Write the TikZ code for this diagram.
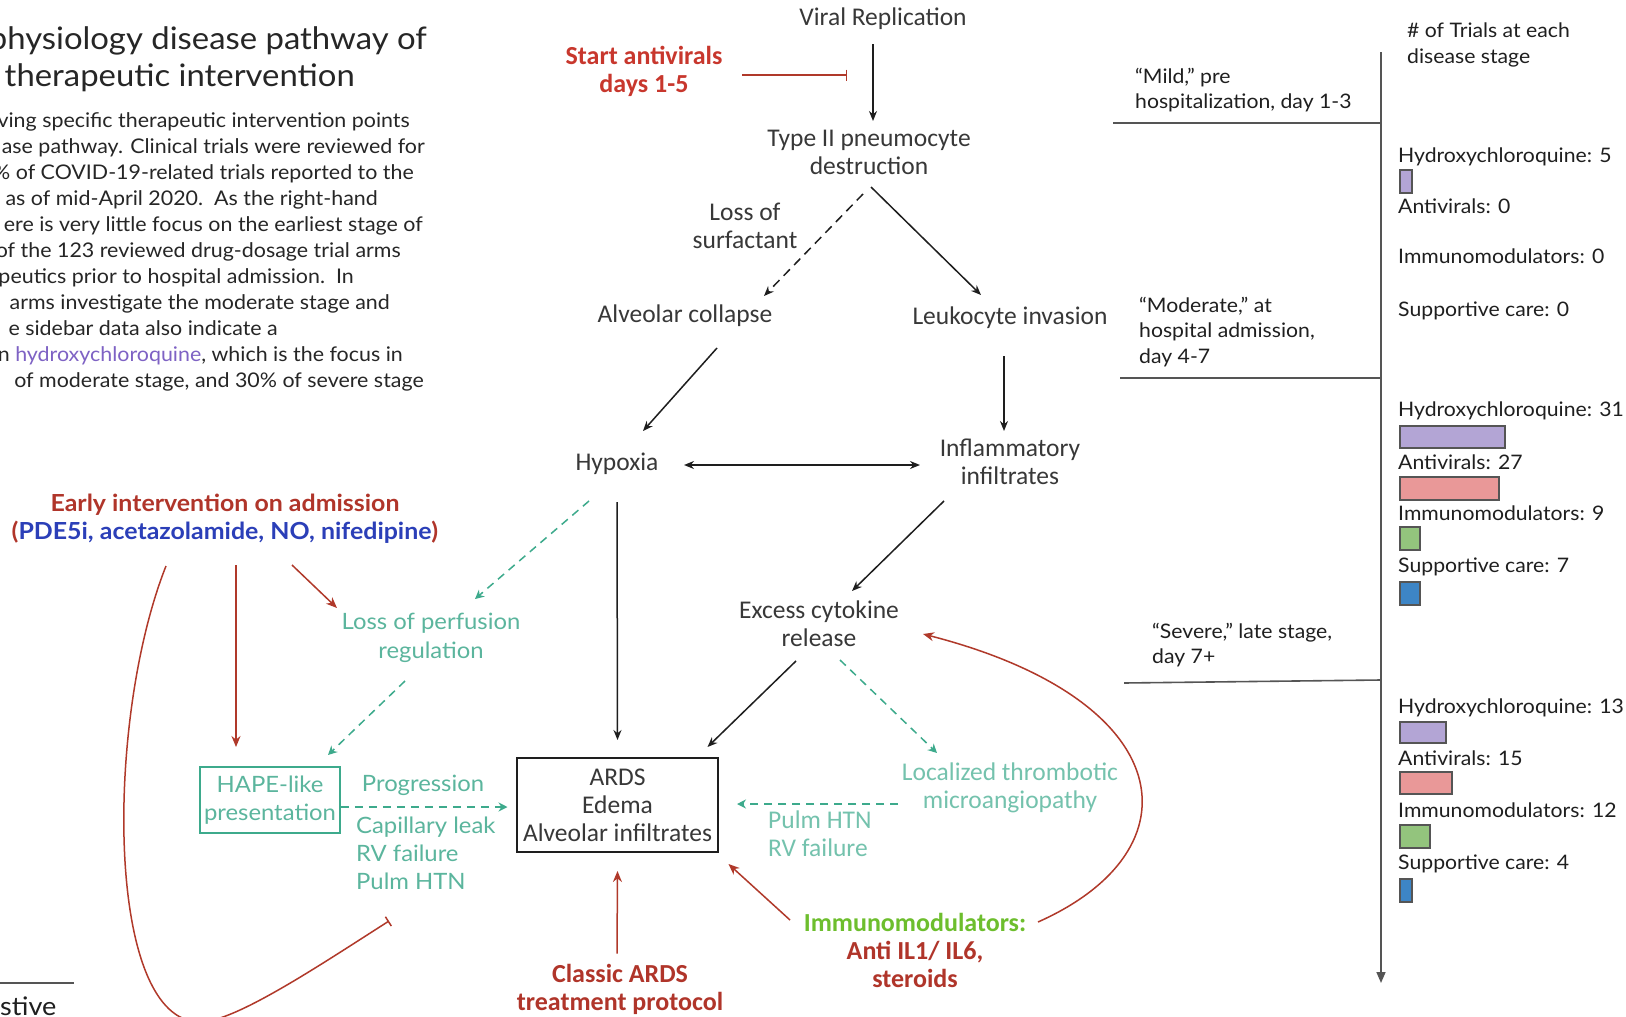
\documentclass[tikz,border=0pt]{standalone}
\usepackage{fontspec}
\setmainfont{Lato}[FakeStretch=1.06]
\newfontfamily\carl{Carlito}
\usetikzlibrary{arrows.meta,calc}
\definecolor{txtc}{HTML}{383838}
\definecolor{arrblk}{HTML}{1E1E1E}
\definecolor{tealT}{HTML}{5BB59D}
\definecolor{tealL}{HTML}{74C2AD}
\definecolor{tealA}{HTML}{3DAA8C}
\definecolor{redL}{HTML}{B0392A}
\definecolor{redT}{HTML}{B0352A}
\definecolor{redS}{HTML}{C8372D}
\definecolor{blueT}{HTML}{2B3FB8}
\definecolor{greenT}{HTML}{6DBE2D}
\definecolor{purpleT}{HTML}{7E62C4}
\definecolor{axc}{HTML}{555555}
\definecolor{barP}{HTML}{B3A5D5}
\definecolor{barR}{HTML}{E99898}
\definecolor{barG}{HTML}{93C47D}
\definecolor{barB}{HTML}{3D85C6}
\tikzset{
 ttl/.style={font=\fontsize{31}{36}\selectfont, inner sep=0pt, text=black!85, anchor=base east},
 bd/.style={font=\fontsize{20.2}{26}\selectfont, inner sep=0pt, text=black!85, anchor=base east},
 blk/.style={font=\carl\fontsize{25.5}{28}\selectfont, inner sep=0pt, text=txtc, align=center},
 grn/.style={font=\fontsize{22.5}{28}\selectfont, inner sep=0pt, text=tealT, align=center},
 grnc/.style={font=\carl\fontsize{25.5}{28}\selectfont, inner sep=0pt, text=tealL, align=center},
 redc/.style={font=\carl\bfseries\fontsize{26}{28}\selectfont, inner sep=0pt, text=redT, align=center},
 sb/.style={font=\fontsize{20}{26}\selectfont, inner sep=0pt, text=black!88, anchor=base west, align=left},
 blkarr/.style={draw=arrblk, line width=1.5pt, -{Stealth[length=10pt,width=8pt]}},
 redarr/.style={draw=redL, line width=1.5pt, -{Stealth[length=11pt,width=9pt]}},
 tealarr/.style={draw=tealA, line width=1.5pt, dash pattern=on 8pt off 6pt, -{Stealth[length=9pt,width=9pt]}},
 inh/.style={draw=redL, line width=1.5pt, -{Bar[width=11pt,line width=1.5pt]}},
 axline/.style={draw=axc, line width=1.6pt},
 barbox/.style={draw=axc, line width=1.2pt},
}
\begin{document}
\begin{tikzpicture}[x=1pt,y=-1pt]
\useasboundingbox (0,0) rectangle (1626,1017);
\fill[white] (0,0) rectangle (1626,1017);
\clip (0,0) rectangle (1626,1017);

% ---------- left text ----------
\node[ttl] (ti1) at (427,49) {physiology disease pathway of};
\node[ttl] (ti2) at (355,86) {n therapeutic intervention};
\node[bd] (b1) at (410,127) {ving specific therapeutic intervention points};
\node[bd] (b2) at (425,153) {ase pathway. Clinical trials were reviewed for};
\node[bd] (b3) at (414,179) {\% of COVID-19-related trials reported to the};
\node[bd] (b4) at (378,205) {as of mid-April 2020.\ \ As the right-hand};
\node[bd] (b5) at (423,231) {ere is very little focus on the earliest stage of};
\node[bd] (b6) at (401,257) {of the 123 reviewed drug-dosage trial arms};
\node[bd] (b7) at (354,283) {peutics prior to hospital admission.\ \ In};
\node[bd] (b8) at (390,309) {arms investigate the moderate stage and};
\node[bd] (b9) at (278,335) {e sidebar data also indicate a};
\node[bd] (b10) at (403,361) {n \textcolor{purpleT}{hydroxychloroquine}, which is the focus in};
\node[bd] (b11) at (424,387) {of moderate stage, and 30\% of severe stage};

\draw[axline] (0,983) -- (74,983);
\node[font=\fontsize{25.5}{28}\selectfont, inner sep=0pt, anchor=base west, text=black!88] (stv) at (0,1015) {stive};

% ---------- diagram nodes ----------
\node[blk] (vr) at (883,19) {Viral Replication};
\node[redc, text=redS] (sa) at (644,71) {Start antivirals\\days 1-5};
\node[blk] (t2) at (869,152) {Type II pneumocyte\\destruction};
\node[blk] (ls) at (745,226) {Loss of\\surfactant};
\node[blk] (ac) at (685,316) {Alveolar collapse};
\node[blk] (li) at (1010,318) {Leukocyte invasion};
\node[blk] (hy) at (617,464) {Hypoxia};
\node[blk] (inf) at (1010,462) {Inflammatory\\infiltrates};
\node[blk] (ec) at (819,624) {Excess cytokine\\release};
\node[grnc] (lt) at (1010,788) {Localized thrombotic\\microangiopathy};
\node[grnc, align=left, anchor=west] (ph) at (768,834) {Pulm HTN\\RV failure};
\node[blk, draw=arrblk, line width=1.5pt, minimum width=201pt, minimum height=94pt] (ards) at (617.5,805) {ARDS\\Edema\\Alveolar infiltrates};
\node[grn, draw=tealA, line width=1.5pt, minimum width=140pt, minimum height=66pt] (hape) at (270,800) {HAPE-like\\presentation};
\node[grn] (pr) at (423,785) {Progression};
\node[grn, align=left, anchor=west] (cl) at (356,853) {Capillary leak\\RV failure\\Pulm HTN};
\node[grn, font=\fontsize{22.5}{29}\selectfont] (lp) at (431,638) {Loss of perfusion\\regulation};
\node[font=\bfseries\fontsize{23.5}{28}\selectfont, inner sep=0pt, align=center, text=redT] (ei) at (225,519)
  {Early intervention on admission\\(\textcolor{blueT}{PDE5i, acetazolamide, NO, nifedipine})};
\node[redc] (cls) at (620,989.5) {Classic ARDS\\treatment protocol};
\node[redc] (imm) at (915,950) {\textcolor{greenT}{Immunomodulators:}\\Anti IL1/ IL6,\\steroids};

% ---------- connectors ----------
\draw[blkarr] ($(vr)+(-10,25)$) -- ($(t2)+(4,-31)$);
\draw[inh] ($(sa)+(98,4)$) -- ($(vr)+(-36,56)$);
\draw[blkarr, dash pattern=on 9pt off 6pt] ($(t2)+(-6,42)$) -- ($(ac)+(79,-20)$);
\draw[blkarr] ($(t2)+(2,35)$) -- ($(li)+(-29,-23)$);
\draw[blkarr] ($(ac)+(32,32)$) -- ($(hy)+(26,-33)$);
\draw[blkarr] ($(li)+(-6,38)$) -- ($(inf)+(-6,-31)$);
\draw[blkarr, {Stealth[length=10pt,width=8pt]}-{Stealth[length=10pt,width=8pt]}] ($(hy)+(67,1)$) -- ($(inf)+(-90,3)$);
\draw[blkarr] ($(hy)+(0,38)$) -- ($(ards)+(0,-65)$);
\draw[tealarr] ($(hy)+(-28,37)$) -- ($(lp)+(44,-39)$);
\draw[blkarr] ($(inf)+(-66,39)$) -- ($(ec)+(33,-33)$);
\draw[blkarr] ($(ec)+(-23,37)$) -- ($(ards)+(90,-58)$);
\draw[tealarr] ($(ec)+(21,36)$) -- ($(lt)+(-73,-35)$);
\draw[tealarr] ($(lt)+(-112,16)$) -- ($(ards)+(119.5,-1)$);
\draw[tealarr] (hape.east |- {$(hape)+(0,7)$}) -- ($(ards)+(-110,2)$);
\draw[tealarr] ($(lp)+(-26,43)$) -- ($(hape)+(58,-45)$);
\draw[redarr] ($(ei)+(11,46)$) -- ($(hape)+(-34,-53)$);
\draw[redarr] ($(ei)+(67,46)$) -- ($(lp)+(-94,-30)$);
\draw[inh] ($(ei)+(-59,47)$) .. controls (105,720) and (105,1022) .. (200,1022)
   .. controls (235,1022) and (320,965) .. ($(hape)+(119,121)$);
\draw[redarr] ($(cls)+(-3,-36)$) -- ($(ards)+(0,66)$);
\draw[redarr] ($(imm)+(-125,-30)$) -- ($(ards)+(111,59)$);
\draw[redarr] ($(imm)+(123,-28)$) .. controls (1200,850) and (1180,700) .. ($(ec)+(104,10)$);

% ---------- sidebar ----------
\draw[axline, -{Triangle[length=11pt,width=9pt]}] (1381,52) -- (1381,983);
\draw[axline] (1113,123) -- (1381,123);
\draw[axline] (1120,378) -- (1381,378);
\draw[axline] (1124,683) -- (1381,680);
\node[sb] (hdr) at (1407,63) {\# of Trials at each\\disease stage};
\node[sb, font=\fontsize{20}{25}\selectfont] (mild) at (1135,108) {“Mild,” pre\\hospitalization, day 1-3};
\node[sb, font=\fontsize{20}{25.5}\selectfont] (mod) at (1139,363) {“Moderate,” at\\hospital admission,\\day 4-7};
\node[sb, font=\fontsize{20}{25}\selectfont] (sev) at (1152,663) {“Severe,” late stage,\\day 7+};

\node[sb] (m1) at (1398,162) {Hydroxychloroquine: 5};
\draw[barbox, fill=barP] (1400,170) rectangle (1412,193);
\node[sb] (m2) at (1398,213) {Antivirals: 0};
\node[sb] (m3) at (1398,263) {Immunomodulators: 0};
\node[sb] (m4) at (1398,316) {Supportive care: 0};

\node[sb] (n1) at (1398,416) {Hydroxychloroquine: 31};
\draw[barbox, fill=barP] (1400,426) rectangle (1505,448);
\node[sb] (n2) at (1398,469) {Antivirals: 27};
\draw[barbox, fill=barR] (1400,477) rectangle (1499,500);
\node[sb] (n3) at (1398,520) {Immunomodulators: 9};
\draw[barbox, fill=barG] (1400,527) rectangle (1420,550);
\node[sb] (n4) at (1398,572) {Supportive care: 7};
\draw[barbox, fill=barB] (1400,582) rectangle (1420,605);

\node[sb] (s1) at (1398,713) {Hydroxychloroquine: 13};
\draw[barbox, fill=barP] (1400,722) rectangle (1446,743);
\node[sb] (s2) at (1398,765) {Antivirals: 15};
\draw[barbox, fill=barR] (1400,772) rectangle (1452,794);
\node[sb] (s3) at (1398,817) {Immunomodulators: 12};
\draw[barbox, fill=barG] (1400,825) rectangle (1430,848);
\node[sb] (s4) at (1398,869) {Supportive care: 4};
\draw[barbox, fill=barB] (1400,879) rectangle (1412,902);
\end{tikzpicture}
\end{document}
